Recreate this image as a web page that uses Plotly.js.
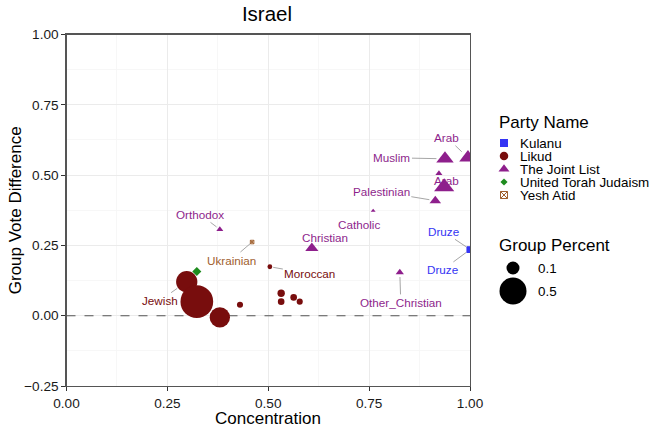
<!DOCTYPE html>
<html>
<head>
<meta charset="utf-8">
<script src="https://cdn.plot.ly/plotly-3.0.1.min.js"></script>
<style>
  html, body { margin: 0; padding: 0; background: #fff; }
  #chart { width: 657px; height: 430px; }
</style>
</head>
<body>
<div id="chart"></div>
<script>
// ---- data -------------------------------------------------------------
const groups = [
  'Jewish', '', '', '', 'Moroccan', '', '', '', '',
  'Arab', 'Muslim', '', 'Arab', 'Palestinian', 'Catholic', 'Orthodox', 'Christian', 'Other_Christian',
  'Druze', 'Druze',
  '',
  'Ukrainian'
];
const party = [
  'Likud', 'Likud', 'Likud', 'Likud', 'Likud', 'Likud', 'Likud', 'Likud', 'Likud',
  'The Joint List', 'The Joint List', 'The Joint List', 'The Joint List', 'The Joint List',
  'The Joint List', 'The Joint List', 'The Joint List', 'The Joint List',
  'Kulanu', 'Kulanu',
  'United Torah Judaism',
  'Yesh Atid'
];
const concentration = [
  0.298, 0.323, 0.380, 0.430, 0.504, 0.532, 0.532, 0.563, 0.578,
  0.995, 0.938, 0.923, 0.936, 0.914, 0.760, 0.380, 0.608, 0.826,
  1.000, 0.999,
  0.323,
  0.460
];
const voteDiff = [
  0.121, 0.050, -0.006, 0.039, 0.174, 0.080, 0.050, 0.065, 0.050,
  0.562, 0.558, 0.506, 0.458, 0.409, 0.373, 0.307, 0.240, 0.154,
  0.236, 0.234,
  0.157,
  0.262
];
const groupPct = [
  0.30, 0.75, 0.27, 0.015, 0.0075, 0.025, 0.019, 0.019, 0.015,
  0.09, 0.089, 0.0085, 0.124, 0.033, 0.0025, 0.0085, 0.046, 0.014,
  0.022, 0.022,
  0.042,
  0.004
];

const partyNames   = ['Kulanu', 'Likud', 'The Joint List', 'United Torah Judaism', 'Yesh Atid'];
const sizeBreaks   = [0.1, 0.5];

// ---- styling ----------------------------------------------------------
const partyColors  = {'Kulanu': '#3434F4', 'Likud': '#780D0D', 'The Joint List': '#8E1F8C',
                      'United Torah Judaism': '#1E8C1E', 'Yesh Atid': '#A0602E'};
const partySymbols = {'Kulanu': 'square', 'Likud': 'circle', 'The Joint List': 'triangle-up',
                      'United Torah Judaism': 'diamond', 'Yesh Atid': 'square-x-open'};
const symbolScale  = {'circle': 1, 'triangle-up': 1.22, 'square': 0.886, 'diamond': 0.77, 'square-x-open': 0.886};
const keySize      = {'square': 8, 'circle': 8.5, 'triangle-up': 9.5, 'diamond': 5.5, 'square-x-open': 7};
const drawOrder    = ['Likud', 'The Joint List', 'Kulanu', 'United Torah Judaism', 'Yesh Atid'];

// repelled label placement: pixel offset of the label from its point, and whether a leader is drawn
const labelOffset = {
  0: [-27, 19, true], 4: [40, 7, true],
  9: [-21, -20, true], 10: [-53, -1, true], 12: [2, -6, false], 13: [-54, -9, true],
  14: [-14, 14, false], 15: [-20, -15, true], 16: [13, -11, false], 17: [1, 30, true],
  18: [-27, -18, true], 19: [-27, 20, true],
  21: [-21, 18, true]
};

const FONT = '"Liberation Sans", Arial, Helvetica, sans-serif';
const W = 657, H = 430;
const panel = {l: 66.5, r: 470, t: 34.5, b: 386};
const TICK_SIZE = 13.6, AXIS_TITLE_SIZE = 17, LEG_TITLE_SIZE = 17, LEG_TEXT_SIZE = 13.4, LABEL_SIZE = 11.7;

// point size follows the square root of the group share
const diam = v => 1.7 + 35.8 * Math.sqrt(v);

const traces = [];
drawOrder.forEach(p => {
  const idx = party.map((q, i) => q === p ? i : -1).filter(i => i >= 0);
  const sym = partySymbols[p];
  traces.push({
    type: 'scatter', mode: 'markers', name: p,
    x: idx.map(i => concentration[i]),
    y: idx.map(i => voteDiff[i]),
    text: idx.map(i => groups[i]),
    marker: {
      symbol: sym, color: partyColors[p], opacity: 1,
      size: idx.map(i => diam(groupPct[i]) * symbolScale[sym]),
      line: {width: sym === 'square-x-open' ? 1 : 0, color: partyColors[p]}
    },
    cliponaxis: true, hoverinfo: 'x+y+text', showlegend: false,
    xaxis: 'x', yaxis: 'y'
  });
});

// legend keys, drawn on a pixel-unit overlay
const legX = 498, keyX = 504, keyTextX = 519, keyY0 = 143, keyStep = 13;
traces.push({
  type: 'scatter', mode: 'markers', xaxis: 'x2', yaxis: 'y2', showlegend: false, hoverinfo: 'skip',
  x: partyNames.map(() => keyX),
  y: partyNames.map((_, i) => keyY0 + keyStep * i),
  marker: {
    symbol: partyNames.map(p => partySymbols[p]),
    color: partyNames.map(p => partyColors[p]), opacity: 1,
    size: partyNames.map(p => keySize[partySymbols[p]]),
    line: {width: partyNames.map(p => partySymbols[p] === 'square-x-open' ? 1 : 0),
           color: partyNames.map(p => partyColors[p])}
  }
});
const sizeY = [268, 291];
traces.push({
  type: 'scatter', mode: 'markers', xaxis: 'x2', yaxis: 'y2', showlegend: false, hoverinfo: 'skip',
  x: sizeBreaks.map(() => 513),
  y: sizeBreaks.map((_, i) => sizeY[i]),
  marker: {symbol: 'circle', color: '#000', opacity: 1, size: sizeBreaks.map(diam), line: {width: 0}}
});

const annotations = [];
Object.keys(labelOffset).forEach(k => {
  const i = +k;
  const [ax, ay, seg] = labelOffset[i];
  const col = partyColors[party[i]];
  const sym = partySymbols[party[i]];
  const base = {
    xref: 'x', yref: 'y', x: concentration[i], y: voteDiff[i], text: groups[i],
    font: {family: FONT, size: LABEL_SIZE, color: col}, xanchor: 'center', yanchor: 'middle'
  };
  if (seg) {
    annotations.push(Object.assign(base, {
      showarrow: true, ax: ax, ay: ay, axref: 'pixel', ayref: 'pixel',
      arrowhead: 0, arrowwidth: 0.7, arrowcolor: '#808080',
      standoff: diam(groupPct[i]) * symbolScale[sym] / 2 + 1
    }));
  } else {
    annotations.push(Object.assign(base, {showarrow: false, xshift: ax, yshift: -ay}));
  }
});

const pxText = (x, y, text, size, extra) => Object.assign({
  xref: 'x2', yref: 'y2', x: x, y: y, text: text, showarrow: false, borderpad: 0,
  xanchor: 'left', yanchor: 'middle', font: {family: FONT, size: size, color: '#000'}
}, extra || {});
annotations.push(pxText(legX, 122, 'Party Name', LEG_TITLE_SIZE));
partyNames.forEach((p, i) => annotations.push(pxText(keyTextX, keyY0 + keyStep * i, p, LEG_TEXT_SIZE)));
annotations.push(pxText(legX, 245, 'Group Percent', LEG_TITLE_SIZE));
sizeBreaks.forEach((b, i) => annotations.push(pxText(537, sizeY[i], b.toFixed(1), LEG_TEXT_SIZE)));

// axis titles
annotations.push(pxText((panel.l + panel.r) / 2, 418, 'Concentration', AXIS_TITLE_SIZE, {xanchor: 'center'}));
annotations.push(pxText(15, (panel.t + panel.b) / 2, 'Group Vote Difference', AXIS_TITLE_SIZE,
  {xanchor: 'center', textangle: -90}));

const axisCommon = {
  ticks: 'outside', ticklen: 4, tickwidth: 1, tickcolor: '#333',
  showline: true, mirror: true, linecolor: '#555', linewidth: 1.2,
  showgrid: true, gridcolor: '#EBEBEB', gridwidth: 1,
  zeroline: false, tickformat: '.2f',
  tickfont: {family: FONT, size: TICK_SIZE, color: '#1a1a1a'},
  fixedrange: true
};

const layout = {
  width: W, height: H,
  margin: {l: 0, r: 0, t: 0, b: 0},
  paper_bgcolor: '#fff', plot_bgcolor: 'rgba(0,0,0,0)',
  font: {family: FONT, color: '#000'},
  showlegend: false,
  title: {text: 'Israel', x: 267 / W, xanchor: 'center', xref: 'paper',
          y: 1 - 14 / H, yanchor: 'middle', yref: 'paper',
          font: {family: FONT, size: 20.5, color: '#000'}},
  xaxis: Object.assign({}, axisCommon, {
    domain: [panel.l / W, panel.r / W], range: [0, 1], anchor: 'y',
    tickvals: [0, 0.25, 0.5, 0.75, 1],
    minor: {dtick: 0.125, tick0: 0, showgrid: true, gridcolor: '#F5F5F5', gridwidth: 0.8, ticks: ''}
  }),
  yaxis: Object.assign({}, axisCommon, {
    domain: [1 - panel.b / H, 1 - panel.t / H], range: [-0.25, 1], anchor: 'x',
    tickvals: [-0.25, 0, 0.25, 0.5, 0.75, 1],
    minor: {dtick: 0.125, tick0: 0, showgrid: true, gridcolor: '#F5F5F5', gridwidth: 0.8, ticks: ''}
  }),
  xaxis2: {domain: [0, 1], range: [0, W], anchor: 'y2', visible: false, fixedrange: true},
  yaxis2: {domain: [0, 1], range: [H, 0], anchor: 'x2', visible: false, fixedrange: true},
  shapes: [{
    type: 'line', xref: 'x', yref: 'y', x0: 0, x1: 1, y0: 0, y1: 0, layer: 'between',
    line: {color: '#555', width: 1.1, dash: 'dash'}
  }],
  annotations: annotations
};

Plotly.newPlot('chart', traces, layout, {displayModeBar: false, staticPlot: true});
</script>
</body>
</html>
